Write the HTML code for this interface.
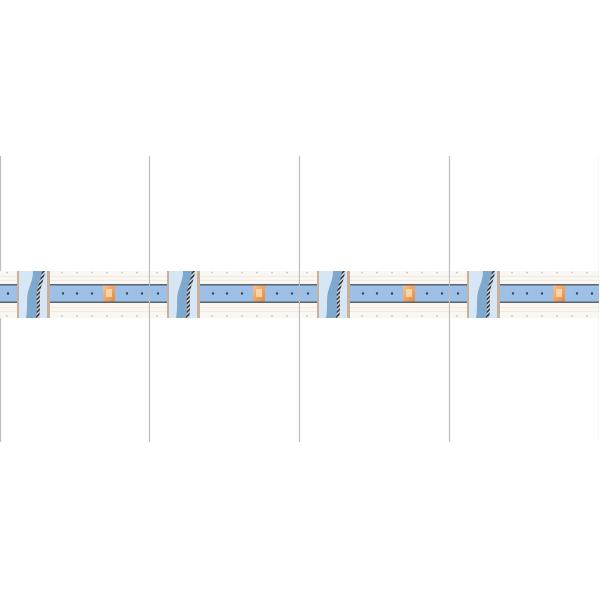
<!DOCTYPE html>
<html><head><meta charset="utf-8"><style>html,body{margin:0;padding:0;background:#fff}svg{display:block}</style></head>
<body>
<svg width="600" height="600" viewBox="0 0 600 600" xmlns="http://www.w3.org/2000/svg">
<defs>
<pattern id="hatch" width="3" height="3" patternUnits="userSpaceOnUse" patternTransform="rotate(45)">
<rect width="3" height="3" fill="#ddd"/><rect width="1.6" height="3" fill="#333"/>
</pattern>
<linearGradient id="og" x1="0" y1="0" x2="1" y2="1"><stop offset="0" stop-color="#f6c08a"/><stop offset="1" stop-color="#e48a44"/></linearGradient>
<g id="tile">
<rect x="0" y="271" width="150" height="47" fill="#faf6f1"/>
<g stroke="#f3ebe2" stroke-width="1">
<line x1="0" y1="276.5" x2="150" y2="276.5"/><line x1="0" y1="280.5" x2="150" y2="280.5"/>
<line x1="0" y1="307.5" x2="150" y2="307.5"/><line x1="0" y1="311.5" x2="150" y2="311.5"/>
</g>
<g fill="#c9c3bd">
<circle cx="7" cy="272.5" r="0.9"/><circle cx="22" cy="272.5" r="0.9"/><circle cx="62" cy="272.5" r="0.9"/><circle cx="77" cy="272.5" r="0.9"/><circle cx="92" cy="272.5" r="0.9"/><circle cx="107" cy="272.5" r="0.9"/><circle cx="122" cy="272.5" r="0.9"/><circle cx="137" cy="272.5" r="0.9"/>
<circle cx="7" cy="316" r="0.9"/><circle cx="62" cy="316" r="0.9"/><circle cx="77" cy="316" r="0.9"/><circle cx="92" cy="316" r="0.9"/><circle cx="107" cy="316" r="0.9"/><circle cx="122" cy="316" r="0.9"/><circle cx="137" cy="316" r="0.9"/>
</g>
<rect x="0" y="284" width="150" height="19" fill="#5a6470"/>
<rect x="0" y="285.5" width="150" height="16" fill="#9cc0e6"/>
<g fill="#3a4250">
<circle cx="8" cy="293.5" r="1.2"/><circle cx="63" cy="293.5" r="1.2"/><circle cx="77" cy="293.5" r="1.2"/><circle cx="92" cy="293.5" r="1.2"/><circle cx="127" cy="293.5" r="1.2"/><circle cx="142" cy="293.5" r="1.2"/>
</g>
<rect x="103" y="285.5" width="12" height="16" fill="url(#og)"/>
<rect x="106" y="289" width="6" height="8" fill="#f9d2a8"/>
<rect x="17" y="271" width="33" height="47" fill="#c9b09a"/>
<rect x="19" y="271" width="28" height="47" fill="#d6e6f4"/>
<path d="M33 271 L45 271 C44 280 41 285 40 292 C39 300 41 308 39 318 L26 318 C28 308 26 300 28 292 C30 284 33 280 33 271 Z" fill="#7fa8cf"/>
<path d="M42 271 L45 271 C44 280 41 285 40 292 C39 300 41 308 39 318 L36 318 C38 308 36 300 37 292 C38 284 41 280 42 271 Z" fill="url(#hatch)"/>
<line x1="149.5" y1="156" x2="149.5" y2="442" stroke="#bdbdbd" stroke-width="1.2"/>
</g>
</defs>
<line x1="0.5" y1="156" x2="0.5" y2="442" stroke="#bdbdbd" stroke-width="1.2"/>
<use href="#tile"/>
<use href="#tile" x="150"/>
<use href="#tile" x="300"/>
<use href="#tile" x="450"/>
<rect x="599" y="150" width="1" height="300" fill="#fff"/>
</svg>
</body></html>
